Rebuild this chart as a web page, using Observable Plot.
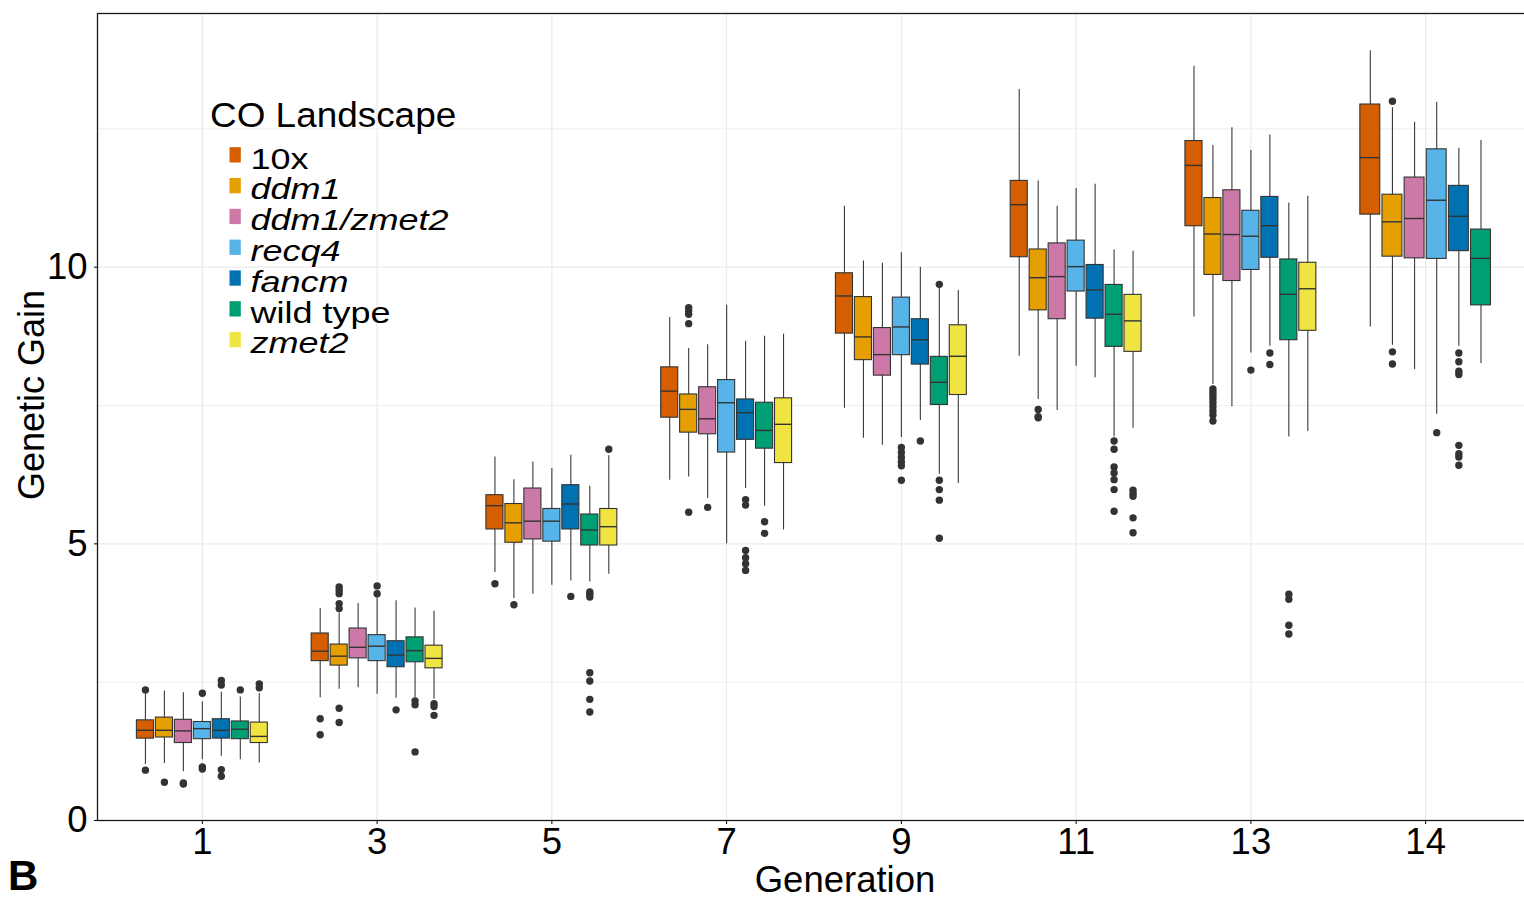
<!DOCTYPE html>
<html><head><meta charset="utf-8">
<script src="https://cdn.jsdelivr.net/npm/d3@7"></script>
<script src="https://cdn.jsdelivr.net/npm/@observablehq/plot@0.6"></script>
<style>
html,body{margin:0;padding:0;background:#fff;overflow:hidden;}
#chart{position:relative;width:1524px;height:899px;overflow:hidden;}
</style></head><body><div id="chart"></div>
<script>
const generations = ["1","3","5","7","9","11","13","14"];
const landscapes = ["10x","ddm1","ddm1/zmet2","recq4","fancm","wild type","zmet2"];
const italicLabel = [false,true,true,true,true,false,true];
const colors = ["#D55E00","#E69F00","#CC79A7","#56B4E9","#0072B2","#009E73","#F0E442"];

// per generation, per landscape
const whiskerHigh = [
  [2.30,2.34,2.31,2.14,2.32,2.23,2.29],
  [3.83,3.75,3.92,4.03,3.97,3.84,3.78],
  [6.57,6.16,6.48,6.36,6.60,6.04,6.59],
  [9.09,8.53,8.60,9.31,8.66,8.75,8.79],
  [11.10,10.11,10.07,10.26,10.00,9.62,9.58],
  [13.21,11.56,11.10,11.42,11.50,10.31,10.29],
  [13.63,12.20,12.52,12.11,12.39,11.16,11.28],
  [13.91,12.88,12.62,12.98,12.15,12.29]
];
const upperQuartile = [
  [1.81,1.86,1.82,1.78,1.83,1.79,1.77],
  [3.38,3.18,3.47,3.35,3.24,3.31,3.16],
  [5.88,5.72,6.00,5.63,6.06,5.53,5.63],
  [8.19,7.70,7.83,7.96,7.61,7.55,7.63],
  [9.89,9.46,8.90,9.45,9.06,8.38,8.95],
  [11.56,10.32,10.43,10.48,10.04,9.68,9.50],
  [12.28,11.25,11.39,11.02,11.27,10.14,10.08],
  [12.94,11.31,11.62,12.13,11.47,10.68]
];
const medians = [
  [1.63,1.63,1.62,1.66,1.63,1.65,1.52],
  [3.06,2.97,3.13,3.15,2.99,3.07,2.93],
  [5.69,5.38,5.41,5.41,5.72,5.25,5.31],
  [7.76,7.43,7.26,7.55,7.37,7.05,7.16],
  [9.48,8.74,8.42,8.92,8.69,7.92,8.39],
  [11.13,9.81,9.83,10.01,9.59,9.15,9.03],
  [11.84,10.60,10.59,10.56,10.75,9.51,9.61],
  [11.98,10.82,10.88,11.21,10.92,10.16]
];
const lowerQuartile = [
  [1.48,1.50,1.40,1.47,1.48,1.47,1.40],
  [2.88,2.80,2.93,2.88,2.77,2.86,2.75],
  [5.26,5.02,5.08,5.04,5.26,4.97,4.97],
  [7.28,7.01,6.98,6.65,6.88,6.72,6.46],
  [8.80,8.32,8.04,8.41,8.24,7.51,7.69],
  [10.18,9.22,9.06,9.56,9.07,8.56,8.47],
  [10.74,9.86,9.75,9.95,10.17,8.68,8.85],
  [10.95,10.19,10.16,10.15,10.29,9.31]
];
const whiskerLow = [
  [1.01,1.03,0.88,1.10,1.16,1.10,1.04],
  [2.22,2.37,2.40,2.28,2.21,2.22,2.19],
  [4.48,4.01,4.09,4.25,4.33,4.31,4.45],
  [6.15,6.21,5.82,5.00,6.00,5.68,5.25],
  [7.45,6.91,6.78,6.92,7.23,6.26,6.09],
  [8.39,7.61,7.41,8.21,8.00,6.93,7.09],
  [9.10,7.88,7.48,8.45,8.57,6.93,7.03],
  [8.92,8.59,8.15,7.34,8.57,8.26]
];
const outliers = [
  [[2.36,0.91],[0.69],[0.66,0.68],[2.30,0.97,0.93],[2.53,2.45,0.92,0.80],[2.36],[2.47,2.40]],
  [[1.84,1.55],[4.22,4.16,4.10,3.92,3.83,2.03,1.77],[],[4.24,4.10],[2.00],[2.16,2.09,1.24],[2.11,2.06,1.90]],
  [[4.28],[3.90],[],[],[4.05],[4.13,4.09,4.04,2.67,2.52,2.19,1.96],[6.71]],
  [[],[9.27,9.21,9.15,8.98,5.57],[5.66],[],[5.80,5.70,4.88,4.75,4.64,4.52],[5.40,5.19],[]],
  [[],[],[],[6.74,6.65,6.56,6.48,6.41,6.15],[6.86],[9.69,6.15,5.98,5.79,5.10],[]],
  [[],[7.43,7.30,7.28],[],[],[],[6.86,6.71,6.39,6.28,6.16,5.98,5.59],[5.97,5.91,5.86,5.47,5.20]],
  [[],[7.80,7.74,7.68,7.62,7.55,7.48,7.40,7.33,7.22],[],[8.14],[8.45,8.24],[4.09,4.00,3.53,3.37],[]],
  [[],[13.00,8.47,8.25],[],[7.01],[8.45,8.29,8.12,8.06,6.78,6.63,6.57,6.42],[]]
];

const groupWidth = 0.76;
const boxes = [];
const outlierPoints = [];
medians.forEach((arr, g) => {
  const n = arr.length;
  const step = groupWidth / n;
  arr.forEach((m, l) => {
    const xc = g + (l - (n - 1) / 2) * step;
    boxes.push({g, land: landscapes[l], xc, x1: xc - 0.45 * step, x2: xc + 0.45 * step,
      lo: whiskerLow[g][l], q1: lowerQuartile[g][l], med: m, q3: upperQuartile[g][l], hi: whiskerHigh[g][l]});
    outliers[g][l].forEach(v => outlierPoints.push({xc, v}));
  });
});

const plot = Plot.plot({
  width: 1533, height: 899,
  marginLeft: 97, marginRight: 3, marginTop: 13, marginBottom: 79,
  style: {fontFamily: "'Liberation Sans', Arial, sans-serif", fontSize: "36.5px", color: "#000", background: "white", maxWidth: "none"},
  x: {type: "linear", domain: [-0.6, 7.6], ticks: d3.range(generations.length), tickFormat: i => generations[i], tickSize: 4, tickPadding: 4, label: null},
  y: {domain: [0, 14.585], ticks: [0, 5, 10], tickSize: 3, tickPadding: 7, label: null},
  color: {domain: landscapes, range: colors},
  marks: [
    Plot.ruleY([2.5, 7.5, 12.5], {stroke: "#ececec", strokeWidth: 0.9}),
    Plot.ruleY([5, 10], {stroke: "#ebebeb", strokeWidth: 1.2}),
    Plot.ruleX(d3.range(generations.length), {stroke: "#ebebeb", strokeWidth: 1.2}),
    Plot.ruleX(boxes, {x: "xc", y1: "lo", y2: "hi", stroke: "#3a3a3a", strokeWidth: 1.1}),
    Plot.rect(boxes, {x1: "x1", x2: "x2", y1: "q1", y2: "q3", fill: "land", stroke: "#333", strokeWidth: 1.1}),
    Plot.ruleY(boxes, {y: "med", x1: "x1", x2: "x2", stroke: "#333", strokeWidth: 1.4}),
    Plot.dot(outlierPoints, {x: "xc", y: "v", r: 3.7, fill: "#333", stroke: null}),
    Plot.frame({stroke: "#1a1a1a", strokeWidth: 1.3})
  ]
});
document.getElementById("chart").appendChild(plot);

const svg = d3.select(plot);
svg.append("text").attr("transform", "translate(44,395) rotate(-90)").attr("text-anchor", "middle")
  .attr("fill", "#000").style("font-size", "36px").text("Genetic Gain");
svg.append("text").attr("x", 845).attr("y", 892).attr("text-anchor", "middle")
  .attr("fill", "#000").style("font-size", "36.5px").text("Generation");
svg.append("text").attr("x", 8).attr("y", 890).attr("text-anchor", "start").attr("fill", "#000")
  .style("font-size", "42px").style("font-weight", "bold").text("B");

const legend = svg.append("g").attr("text-anchor", "start");
legend.append("text").attr("transform", "translate(210,127.3) scale(1.07,1)").attr("text-anchor", "start")
  .attr("fill", "#000").style("font-size", "34.5px").text("CO Landscape");
landscapes.forEach((name, i) => {
  const base = 168.5 + 30.8 * i;
  legend.append("rect").attr("x", 229.5).attr("y", base - 21.3).attr("width", 11.3).attr("height", 15.3)
    .attr("fill", colors[i]);
  legend.append("text").attr("transform", `translate(250.5,${base}) scale(1.2,1)`).attr("text-anchor", "start")
    .attr("fill", "#000").style("font-size", "30px").style("font-style", italicLabel[i] ? "italic" : "normal")
    .text(name);
});
</script></body></html>
